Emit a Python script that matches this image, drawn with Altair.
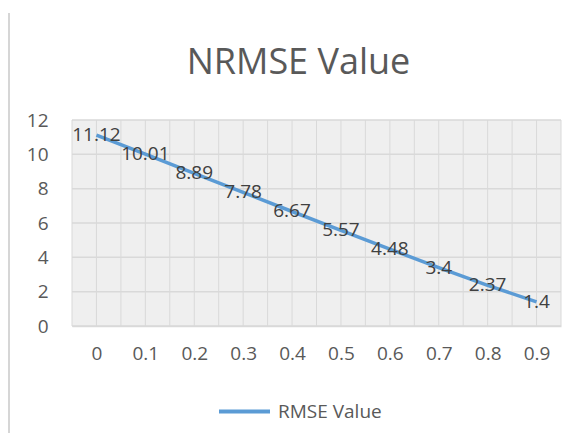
import altair as alt
import pandas as pd

alpha = [0, 0.1, 0.2, 0.3, 0.4, 0.5, 0.6, 0.7, 0.8, 0.9]
rmse = [11.12, 10.01, 8.89, 7.78, 6.67, 5.57, 4.48, 3.4, 2.37, 1.4]
rmse_labels = ["11.12", "10.01", "8.89", "7.78", "6.67", "5.57", "4.48", "3.4", "2.37", "1.4"]
series_name = "RMSE Value"
y_ticks = [0, 2, 4, 6, 8, 10, 12]
x_grid = [round(-0.05 + 0.05 * i, 2) for i in range(21)]

df = pd.DataFrame({"alpha": alpha, "rmse": rmse, "label": rmse_labels,
                   "series": [series_name] * len(alpha)})
xgrid_df = pd.DataFrame({"alpha": x_grid})
ygrid_df = pd.DataFrame({"rmse": y_ticks})

FONT = "Open Sans"
GRAY = "#595959"
GRID = "#d9d9d9"
FS = 19

xs = alt.Scale(domain=[-0.05, 0.95], nice=False, zero=False)
ys = alt.Scale(domain=[0, 12], nice=False)

x_axis = alt.Axis(
    values=alpha, tickCount=len(alpha), grid=False, ticks=False,
    domainColor=GRID, domainWidth=1.5, format=".1~f",
    labelFont=FONT, labelFontSize=FS, labelColor=GRAY, labelPadding=18,
    labelOverlap=False, labelFlush=False, labelBound=False, title=None,
)
y_axis = alt.Axis(
    values=y_ticks, tickCount=len(y_ticks), grid=False, ticks=False,
    domain=False, labelFont=FONT, labelFontSize=FS, labelColor=GRAY,
    labelPadding=24, labelOverlap=False, labelFlush=False, labelBound=False,
    title=None,
)

vgrid = alt.Chart(xgrid_df).mark_rule(color=GRID, strokeWidth=1).encode(
    x=alt.X("alpha:Q", scale=xs, axis=x_axis)
)
hgrid = alt.Chart(ygrid_df).mark_rule(color=GRID, strokeWidth=1.5).encode(
    y=alt.Y("rmse:Q", scale=ys, axis=y_axis)
)

line = alt.Chart(df).mark_line(strokeWidth=3.5).encode(
    x=alt.X("alpha:Q", scale=xs, axis=x_axis),
    y=alt.Y("rmse:Q", scale=ys, axis=y_axis),
    color=alt.Color(
        "series:N",
        scale=alt.Scale(range=["#5b9bd5"]),
        legend=alt.Legend(
            orient="none", legendX=145, legendY=264, title=None,
            symbolType="stroke", symbolSize=2601, symbolStrokeWidth=4,
            labelFont=FONT, labelFontSize=FS, labelColor=GRAY, labelOffset=6,
            padding=0,
        ),
    ),
)

labels = alt.Chart(df).mark_text(font=FONT, fontSize=FS, color="#404040",
                                 align="center", baseline="middle").encode(
    x=alt.X("alpha:Q", scale=xs, axis=x_axis),
    y=alt.Y("rmse:Q", scale=ys, axis=y_axis),
    text="label:N",
)

border = alt.Chart(pd.DataFrame({"k": [0]})).mark_rule(
    color="#d6d6d6", strokeWidth=2
).encode(x=alt.value(-63), y=alt.value(-107), y2=alt.value(321))

chart = alt.layer(border, vgrid, hgrid, line, labels).properties(
    width=489, height=206,
    padding={"left": 64, "top": 112, "right": 12, "bottom": 107},
    autosize=alt.AutoSizeParams(type="none"),
    title=alt.TitleParams(
        "NRMSE Value", font=FONT, fontSize=36, fontWeight="normal", color=GRAY,
        anchor="middle", dx=-18, offset=-98, baseline="alphabetic",
    ),
).configure_view(fill="#efefef", stroke=None)

chart.save("out.html", embed_options={"renderer": "svg", "actions": False})
